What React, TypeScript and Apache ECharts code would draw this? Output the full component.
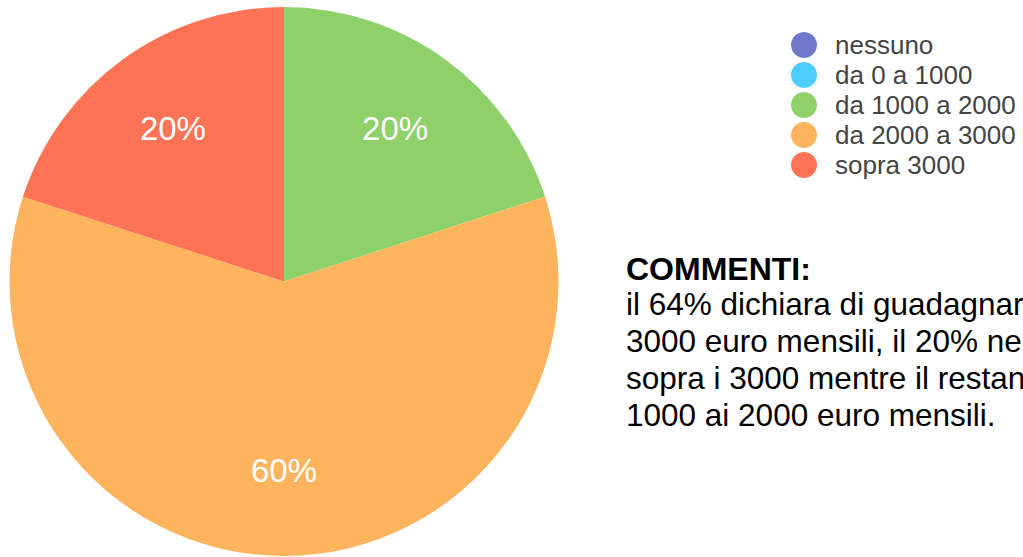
import React, { useEffect, useRef } from "react";
import * as echarts from "echarts";

const categories = ["nessuno", "da 0 a 1000", "da 1000 a 2000", "da 2000 a 3000", "sopra 3000"];
const values = [0, 0, 20, 60, 20];
const colors = ["#7078cc", "#4ccbfd", "#8ed06a", "#fdb45c", "#fe7356"];
const commentTitle = "COMMENTI:";
const commentLines = [
  "il 64% dichiara di guadagnare tra i 2000 e i",
  "3000 euro mensili, il 20% ne guadagna",
  "sopra i 3000 mentre il restante 16% dai",
  "1000 ai 2000 euro mensili.",
];

const FONT = "'Liberation Sans', Arial, Helvetica, sans-serif";

export default function App() {
  const ref = useRef<HTMLDivElement>(null);
  useEffect(() => {
    if (!ref.current) return;
    const chart = echarts.init(ref.current, null, { renderer: "svg" });
    const data = categories.map((name, i) => ({
      name,
      value: values[i],
      itemStyle: { color: colors[i] },
    }));
    const labelData = categories.map((name, i) => ({
      name,
      value: values[i],
      itemStyle: { color: "rgba(0,0,0,0)" },
    }));
    const center = [284, 281.5];
    chart.setOption({
      animation: false,
      legend: {
        orient: "vertical",
        left: 786,
        top: 27,
        icon: "circle",
        itemWidth: 52,
        itemHeight: 26,
        itemGap: 4,
        data: categories,
        textStyle: { fontFamily: FONT, fontSize: 26, color: "#444444" },
      },
      series: [
        {
          type: "pie",
          center,
          radius: [0, 274.5],
          startAngle: 90,
          clockwise: true,
          data,
          label: { show: false },
          labelLine: { show: false },
          emphasis: { disabled: true },
          silent: true,
        },
        {
          type: "pie",
          center,
          radius: [98, 274],
          startAngle: 90,
          clockwise: true,
          data: labelData,
          silent: true,
          emphasis: { disabled: true },
          labelLine: { show: false },
          label: {
            show: true,
            position: "inside",
            fontFamily: FONT,
            fontSize: 33,
            color: "#ffffff",
            formatter: (p: any) => (p.value ? `${p.percent}%` : ""),
          },
        },
      ],
      graphic: [
        {
          type: "text",
          x: 626,
          y: 269,
          style: {
            text: commentTitle,
            font: `bold 32px ${FONT}`,
            fill: "#000000",
            verticalAlign: "middle",
          },
        },
        ...commentLines.map((line, i) => ({
          type: "text",
          x: 626,
          y: 304 + i * 37,
          style: {
            text: line,
            font: `31.5px ${FONT}`,
            fill: "#000000",
            verticalAlign: "middle",
          },
        })),
      ],
    });
    return () => chart.dispose();
  }, []);
  return (
    <div
      ref={ref}
      style={{ position: "fixed", left: 0, top: 0, width: 1023, height: 557, background: "#ffffff" }}
    />
  );
}
